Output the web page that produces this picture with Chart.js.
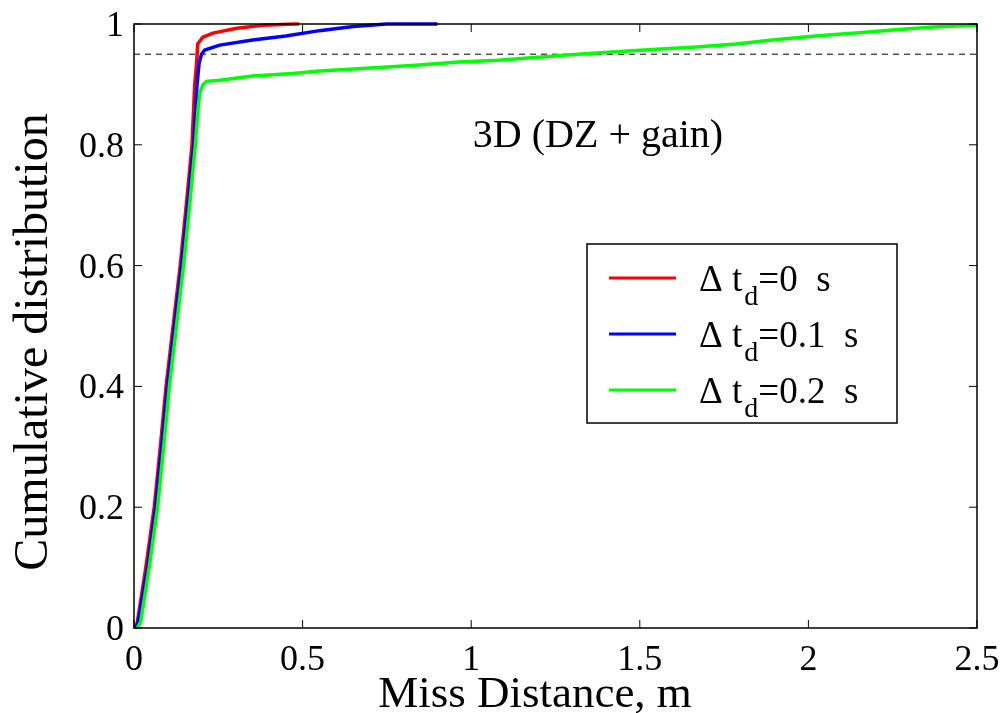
<!DOCTYPE html>
<html>
<head>
<meta charset="utf-8">
<script src="https://cdn.jsdelivr.net/npm/chart.js@4/dist/chart.umd.min.js"></script>
<style>
    body { margin: 0; background: #fff; }
    #wrap { width: 1006px; height: 713px; position: relative; }
</style>
</head>
<body>
<div id="wrap"><canvas id="myChart"></canvas></div>
<script>
// CDF of miss distance
const redX = [0.005, 0.01, 0.035, 0.06, 0.078, 0.095, 0.116, 0.137, 0.155, 0.172, 0.18, 0.185, 0.189, 0.204, 0.234, 0.305, 0.382, 0.476, 0.49];
const redY = [0, 0.01, 0.1, 0.2, 0.3, 0.4, 0.5, 0.6, 0.7, 0.8, 0.9, 0.93, 0.967, 0.978, 0.985, 0.993, 0.998, 1, 1];

const blueX = [0.005, 0.012, 0.04, 0.064, 0.082, 0.099, 0.12, 0.141, 0.159, 0.177, 0.187, 0.193, 0.2, 0.21, 0.254, 0.352, 0.45, 0.55, 0.65, 0.75, 0.9];
const blueY = [0, 0.01, 0.1, 0.2, 0.3, 0.4, 0.5, 0.6, 0.7, 0.8, 0.9, 0.935, 0.95, 0.957, 0.965, 0.9735, 0.98, 0.989, 0.996, 1, 1];

const greenX = [0.01, 0.02, 0.045, 0.07, 0.088, 0.105, 0.126, 0.147, 0.165, 0.182, 0.19, 0.195, 0.204, 0.215, 0.254, 0.352, 0.47, 0.55, 0.728, 0.846, 0.962, 1.08, 1.198, 1.315, 1.43, 1.55, 1.667, 1.785, 1.9, 2.02, 2.14, 2.25, 2.37, 2.49, 2.5];
const greenY = [0, 0.01, 0.1, 0.2, 0.3, 0.4, 0.5, 0.6, 0.7, 0.8, 0.86, 0.885, 0.899, 0.905, 0.907, 0.914, 0.918, 0.922, 0.928, 0.932, 0.937, 0.94, 0.945, 0.95, 0.954, 0.958, 0.962, 0.967, 0.974, 0.98, 0.985, 0.99, 0.995, 0.998, 0.998];

const refLevel = 0.95;
const seriesNames = ['Δ t_d=0 s', 'Δ t_d=0.1 s', 'Δ t_d=0.2 s'];
const xTicks = [0, 0.5, 1, 1.5, 2, 2.5];
const yTicks = [0, 0.2, 0.4, 0.6, 0.8, 1];
const xTickLabels = ['0', '0.5', '1', '1.5', '2', '2.5'];
const yTickLabels = ['0', '0.2', '0.4', '0.6', '0.8', '1'];
const annotation = '3D (DZ + gain)';
const xTitle = 'Miss Distance, m';
const yTitle = 'Cumulative distribution';

const serif = '"Liberation Serif"';
const toPoints = (xs, ys) => xs.map((x, i) => ({ x: x, y: ys[i] }));

// draws text at a large font size and scales it down to the wanted size
const serifText = (ctx, text, x, y, size, align) => {
    const big = 60;
    const k = size / big;
    ctx.save();
    ctx.translate(x, y);
    ctx.scale(k, k);
    ctx.font = big + 'px ' + serif;
    ctx.textAlign = align || 'left';
    ctx.textBaseline = 'alphabetic';
    ctx.fillText(text, 0, 0);
    const w = ctx.measureText(text).width * k;
    ctx.restore();
    return w;
};

// frame, inward ticks, tick labels, titles, annotation and legend (matlab style)
const decorPlugin = {
    id: 'decor',
    afterDraw(chart) {
        const ctx = chart.ctx;
        const a = chart.chartArea;
        const xs = chart.scales.x;
        const ys = chart.scales.y;
        const tl = 8;

        ctx.save();
        ctx.strokeStyle = '#000';
        ctx.lineWidth = 1.5;
        ctx.strokeRect(a.left, a.top, a.right - a.left, a.bottom - a.top);

        ctx.lineWidth = 1;
        ctx.beginPath();
        xTicks.forEach(v => {
            const px = xs.getPixelForValue(v);
            ctx.moveTo(px, a.bottom); ctx.lineTo(px, a.bottom - tl);
            ctx.moveTo(px, a.top); ctx.lineTo(px, a.top + tl);
        });
        yTicks.forEach(v => {
            const py = ys.getPixelForValue(v);
            ctx.moveTo(a.left, py); ctx.lineTo(a.left + tl, py);
            ctx.moveTo(a.right, py); ctx.lineTo(a.right - tl, py);
        });
        ctx.stroke();

        ctx.fillStyle = '#000';
        xTicks.forEach((v, i) => serifText(ctx, xTickLabels[i], xs.getPixelForValue(v), 670, 36, 'center'));
        yTicks.forEach((v, i) => serifText(ctx, yTickLabels[i], a.left - 10, ys.getPixelForValue(v) + 12, 36, 'right'));

        serifText(ctx, annotation, 598, 147, 40, 'center');
        serifText(ctx, xTitle, 535, 707, 45, 'center');

        ctx.save();
        ctx.translate(47, 342);
        ctx.rotate(-Math.PI / 2);
        serifText(ctx, yTitle, 0, 0, 48, 'center');
        ctx.restore();

        // legend box
        const box = { left: 587, top: 244, right: 897, bottom: 423 };
        ctx.fillStyle = '#fff';
        ctx.fillRect(box.left, box.top, box.right - box.left, box.bottom - box.top);
        ctx.lineWidth = 1.5;
        ctx.strokeStyle = '#000';
        ctx.strokeRect(box.left, box.top, box.right - box.left, box.bottom - box.top);

        const rows = [278, 334, 390];
        chart.data.datasets.slice(0, 3).forEach((ds, i) => {
            const y = rows[i];
            ctx.strokeStyle = ds.borderColor;
            ctx.lineWidth = 3;
            ctx.beginPath();
            ctx.moveTo(609, y);
            ctx.lineTo(676, y);
            ctx.stroke();

            const parts = ds.label.split('_');
            const base = y + 13;
            ctx.fillStyle = '#000';
            let x = 699 + serifText(ctx, parts[0], 699, base, 37) + 2;
            x += serifText(ctx, parts[1][0], x, base + 14, 28);
            serifText(ctx, parts[1].slice(1).replace(' ', '  '), x, base, 37);
        });
        ctx.restore();
    }
};

document.addEventListener('DOMContentLoaded', () => {
    const ctx = document.getElementById('myChart').getContext('2d');

    const lineSet = (label, xs, ys, color, order) => ({
        label: label,
        data: toPoints(xs, ys),
        borderColor: color,
        backgroundColor: color,
        borderWidth: 3.5,
        pointRadius: 0,
        tension: 0,
        fill: false,
        order: order,
        clip: 4
    });

    new Chart(ctx, {
        type: 'line',
        data: {
            datasets: [
                lineSet(seriesNames[0], redX, redY, '#ff0000', 2),
                lineSet(seriesNames[1], blueX, blueY, '#0000ff', 1),
                lineSet(seriesNames[2], greenX, greenY, '#00ff00', 0),
                {
                    label: 'ref',
                    data: [{ x: 0, y: refLevel }, { x: 2.5, y: refLevel }],
                    borderColor: '#000',
                    borderWidth: 1,
                    borderDash: [6, 5],
                    pointRadius: 0,
                    order: 3
                }
            ]
        },
        options: {
            responsive: true,
            maintainAspectRatio: false,
            animation: false,
            layout: { padding: { top: 24, right: 29, left: 0, bottom: 0 } },
            plugins: {
                legend: { display: false },
                tooltip: { enabled: false }
            },
            scales: {
                x: {
                    type: 'linear',
                    min: 0,
                    max: 2.5,
                    grid: { display: false },
                    border: { display: false },
                    afterBuildTicks: (scale) => { scale.ticks = xTicks.map(v => ({ value: v })); },
                    afterFit: (scale) => { scale.height = 85; scale.paddingLeft = 0; scale.paddingRight = 0; },
                    ticks: { display: false }
                },
                y: {
                    min: 0,
                    max: 1,
                    grid: { display: false },
                    border: { display: false },
                    afterBuildTicks: (scale) => { scale.ticks = yTicks.map(v => ({ value: v })); },
                    afterFit: (scale) => { scale.width = 134; scale.paddingTop = 0; scale.paddingBottom = 0; },
                    ticks: { display: false }
                }
            }
        },
        plugins: [decorPlugin]
    });
});
</script>
</body>
</html>
